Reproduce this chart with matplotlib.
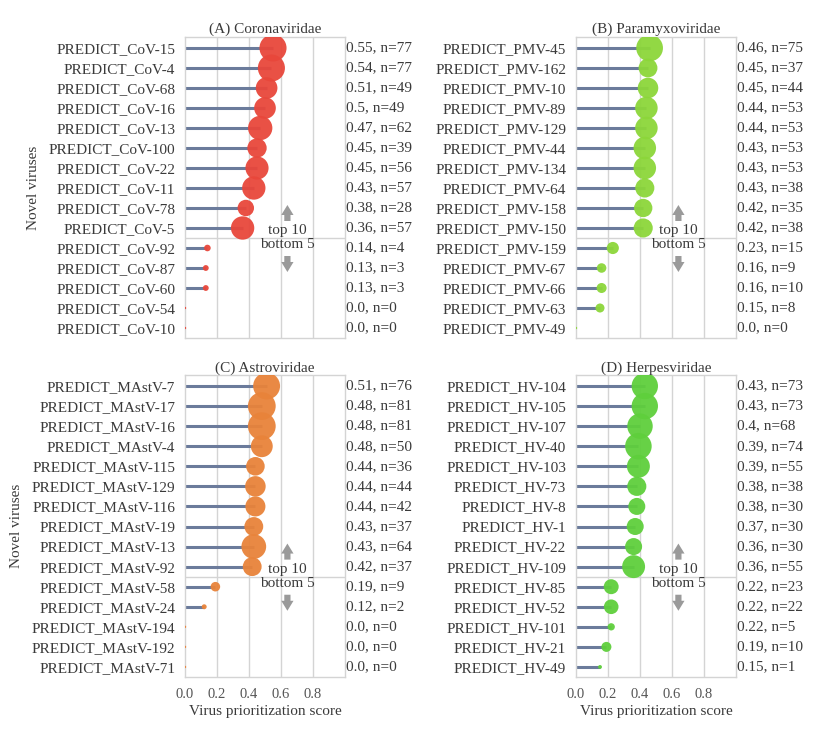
import matplotlib
matplotlib.use("Agg")
import matplotlib.pyplot as plt
from matplotlib.transforms import blended_transform_factory

plt.rcParams['font.family'] = ['Liberation Serif', 'DejaVu Serif']

# ---------------- data ----------------
cov_names = ["PREDICT_CoV-15", "PREDICT_CoV-4", "PREDICT_CoV-68", "PREDICT_CoV-16", "PREDICT_CoV-13",
             "PREDICT_CoV-100", "PREDICT_CoV-22", "PREDICT_CoV-11", "PREDICT_CoV-78", "PREDICT_CoV-5",
             "PREDICT_CoV-92", "PREDICT_CoV-87", "PREDICT_CoV-60", "PREDICT_CoV-54", "PREDICT_CoV-10"]
cov_scores = [0.55, 0.54, 0.51, 0.5, 0.47, 0.45, 0.45, 0.43, 0.38, 0.36, 0.14, 0.13, 0.13, 0.0, 0.0]
cov_n = [77, 77, 49, 49, 62, 39, 56, 57, 28, 57, 4, 3, 3, 0, 0]

pmv_names = ["PREDICT_PMV-45", "PREDICT_PMV-162", "PREDICT_PMV-10", "PREDICT_PMV-89", "PREDICT_PMV-129",
             "PREDICT_PMV-44", "PREDICT_PMV-134", "PREDICT_PMV-64", "PREDICT_PMV-158", "PREDICT_PMV-150",
             "PREDICT_PMV-159", "PREDICT_PMV-67", "PREDICT_PMV-66", "PREDICT_PMV-63", "PREDICT_PMV-49"]
pmv_scores = [0.46, 0.45, 0.45, 0.44, 0.44, 0.43, 0.43, 0.43, 0.42, 0.42, 0.23, 0.16, 0.16, 0.15, 0.0]
pmv_n = [75, 37, 44, 53, 53, 53, 53, 38, 35, 38, 15, 9, 10, 8, 0]

mast_names = ["PREDICT_MAstV-7", "PREDICT_MAstV-17", "PREDICT_MAstV-16", "PREDICT_MAstV-4", "PREDICT_MAstV-115",
              "PREDICT_MAstV-129", "PREDICT_MAstV-116", "PREDICT_MAstV-19", "PREDICT_MAstV-13", "PREDICT_MAstV-92",
              "PREDICT_MAstV-58", "PREDICT_MAstV-24", "PREDICT_MAstV-194", "PREDICT_MAstV-192", "PREDICT_MAstV-71"]
mast_scores = [0.51, 0.48, 0.48, 0.48, 0.44, 0.44, 0.44, 0.43, 0.43, 0.42, 0.19, 0.12, 0.0, 0.0, 0.0]
mast_n = [76, 81, 81, 50, 36, 44, 42, 37, 64, 37, 9, 2, 0, 0, 0]

hv_names = ["PREDICT_HV-104", "PREDICT_HV-105", "PREDICT_HV-107", "PREDICT_HV-40", "PREDICT_HV-103",
            "PREDICT_HV-73", "PREDICT_HV-8", "PREDICT_HV-1", "PREDICT_HV-22", "PREDICT_HV-109",
            "PREDICT_HV-85", "PREDICT_HV-52", "PREDICT_HV-101", "PREDICT_HV-21", "PREDICT_HV-49"]
hv_scores = [0.43, 0.43, 0.4, 0.39, 0.39, 0.38, 0.38, 0.37, 0.36, 0.36, 0.22, 0.22, 0.22, 0.19, 0.15]
hv_n = [73, 73, 68, 74, 55, 38, 30, 30, 30, 55, 23, 22, 5, 10, 1]

titles = ["(A) Coronaviridae", "(B) Paramyxoviridae", "(C) Astroviridae", "(D) Herpesviridae"]
xticks = [0.0, 0.2, 0.4, 0.6, 0.8]
xtick_labels = ["0.0", "0.2", "0.4", "0.6", "0.8"]

panels = [
    (cov_names, cov_scores, cov_n, '#e8473b'),
    (pmv_names, pmv_scores, pmv_n, '#8cd63a'),
    (mast_names, mast_scores, mast_n, '#e8833a'),
    (hv_names, hv_scores, hv_n, '#5fcf3c'),
]

W, H = 817, 729
fig = plt.figure(figsize=(W / 100, H / 100), dpi=100)
positions = [
    [185 / W, 1 - 338 / H, 160 / W, 301 / H],
    [576 / W, 1 - 338 / H, 160 / W, 301 / H],
    [185 / W, 1 - 677 / H, 160 / W, 302 / H],
    [576 / W, 1 - 677 / H, 160 / W, 302 / H],
]

text_col = '#3a3a3a'
grid_col = '#d4d4d4'
stem_col = '#6b7b9b'
arrow_col = '#9a9a9a'
arrow_style = 'simple,head_length=0.45,head_width=0.55,tail_width=0.28'

for k, ((names, scores, ns, col), pos) in enumerate(zip(panels, positions)):
    ax = fig.add_axes(pos)
    rows = list(range(len(names)))
    ax.set_xlim(0, 1.0)
    ax.set_ylim(len(names) - 0.5, -0.55)
    for g in [0.2, 0.4, 0.6, 0.8]:
        ax.axvline(g, color=grid_col, lw=1, zorder=0)
    ax.hlines(rows, 0, scores, color=stem_col, lw=2.2, zorder=2)
    ax.scatter(scores, rows, s=[4.9 * n + 3 for n in ns], color=col, edgecolor='none',
               alpha=0.95, zorder=3)
    # separator between top 10 and bottom 5
    ax.axhline(9.5, color=grid_col, lw=1, zorder=1)
    ax.annotate('', xy=(0.64, 7.85), xytext=(0.64, 8.65),
                arrowprops=dict(arrowstyle=arrow_style, color=arrow_col, lw=0,
                                mutation_scale=16, shrinkA=0, shrinkB=0))
    ax.annotate('', xy=(0.64, 11.2), xytext=(0.64, 10.4),
                arrowprops=dict(arrowstyle=arrow_style, color=arrow_col, lw=0,
                                mutation_scale=16, shrinkA=0, shrinkB=0))
    ax.text(0.64, 9.12, "top 10", ha='center', va='center', fontsize=11, color=text_col, zorder=4)
    ax.text(0.64, 9.85, "bottom 5", ha='center', va='center', fontsize=11, color=text_col, zorder=4)

    tr = blended_transform_factory(ax.transAxes, ax.transData)
    for r, s, n in zip(rows, scores, ns):
        ax.text(1.005, r, f"{s}, n={n}", transform=tr, ha='left', va='center',
                fontsize=11, color=text_col)

    ax.set_yticks(rows)
    ax.set_yticklabels(names, fontsize=11, color=text_col)
    ax.tick_params(axis='y', length=0, pad=7)
    ax.set_xticks(xticks)
    if k >= 2:
        ax.set_xticklabels(xtick_labels, fontsize=10.5, color='#555555')
        ax.tick_params(axis='x', length=0, pad=8)
        ax.set_xlabel("Virus prioritization score", fontsize=11, color=text_col, labelpad=3)
    else:
        ax.set_xticklabels([])
        ax.tick_params(axis='x', length=0)
    if k % 2 == 0:
        ax.set_ylabel("Novel viruses", fontsize=11, color=text_col, labelpad=6)
    ax.set_title(titles[k], fontsize=11, color=text_col, pad=3 if k < 2 else 2)
    for sp in ax.spines.values():
        sp.set_color(grid_col)
        sp.set_linewidth(1)

fig.savefig("out.png", dpi=100)
